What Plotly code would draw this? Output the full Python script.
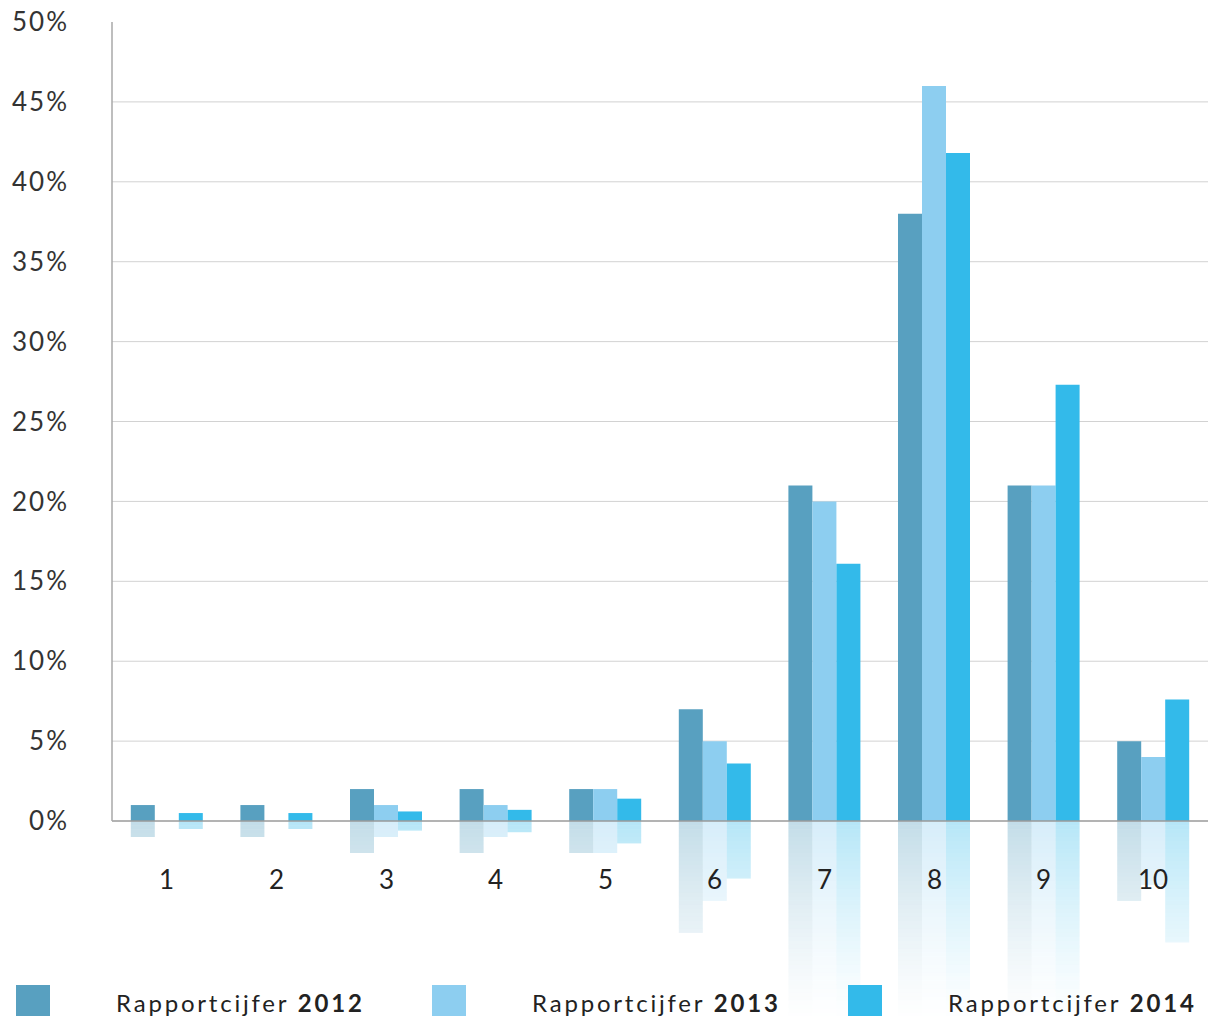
import plotly.graph_objects as go

# ---------------- data ----------------
CATEGORIES = ["1", "2", "3", "4", "5", "6", "7", "8", "9", "10"]
V2012 = [1, 1, 2, 2, 2, 7, 21, 38, 21, 5]
V2013 = [0, 0, 1, 1, 2, 5, 20, 46, 21, 4]
V2014 = [0.5, 0.5, 0.6, 0.7, 1.4, 3.6, 16.1, 41.8, 27.3, 7.6]
SERIES_NAMES = ["2012", "2013", "2014"]
Y_TICKS = [0, 5, 10, 15, 20, 25, 30, 35, 40, 45, 50]
GRID_VALS = [5, 10, 15, 20, 25, 30, 35, 40, 45]

# ---------------- style ----------------
COLORS = ["#58a0c0", "#8dcef0", "#33baea"]
RGB = [(88, 160, 192), (141, 206, 240), (51, 186, 234)]
W, H = 1208, 1016
ML, MR, MT, MB = 112, 0, 22, 0
Y_MIN, Y_MAX = -12.2, 50
FONT = "Lato"

def pxx(px):
    return (px - ML) / (W - ML - MR)

def pxy(py):
    return (H - MB - py) / (H - MT - MB)

fig = go.Figure()

series = [V2012, V2013, V2014]

# reflections (faded mirrored bars), drawn as thin bands with decreasing opacity
STEP = 0.25
FADE_DEPTH = 12.8
A0 = 0.36
nb = int(abs(Y_MIN) / STEP) + 1
for s, vals in enumerate(series):
    r, g, b = RGB[s]
    for k in range(nb):
        top = k * STEP
        ys = []
        for v in vals:
            d = min(STEP, v - top)
            ys.append(-d if d > 0 else 0)
        if all(y == 0 for y in ys):
            continue
        mid = top + STEP / 2
        a = A0 * max(0.0, 1 - mid / FADE_DEPTH) ** 1.3
        fig.add_trace(go.Bar(
            x=CATEGORIES, y=ys, base=[-top] * len(vals),
            offsetgroup=str(s),
            marker=dict(color=f"rgba({r},{g},{b},{a:.4f})", line=dict(width=0)),
            showlegend=False, hoverinfo="skip",
        ))

# main bars
for s, vals in enumerate(series):
    fig.add_trace(go.Bar(
        x=CATEGORIES, y=vals, offsetgroup=str(s),
        marker=dict(color=COLORS[s], line=dict(width=0)),
        name="Rapportcijfer " + SERIES_NAMES[s],
        showlegend=False,
    ))

shapes = []
for gv in GRID_VALS:
    shapes.append(dict(type="line", xref="paper", yref="y", x0=0, x1=1, y0=gv, y1=gv,
                       line=dict(color="#d2d2d2", width=1), layer="below"))
# zero line and y axis line
shapes.append(dict(type="line", xref="paper", yref="y", x0=0, x1=1, y0=0, y1=0,
                   line=dict(color="#9a9a9a", width=1.5), layer="above"))
shapes.append(dict(type="line", xref="paper", yref="y", x0=0, x1=0, y0=0, y1=Y_MAX,
                   line=dict(color="#a8a8a8", width=1.5), layer="above"))

annotations = []
for i, c in enumerate(CATEGORIES):
    annotations.append(dict(x=i, y=-3.6, xref="x", yref="y", text=c, showarrow=False,
                            font=dict(family=FONT, size=26, color="#222"),
                            xanchor="center", yanchor="middle"))

# legend (custom)
LEG_X = [16, 432, 848]
for i, lx in enumerate(LEG_X):
    shapes.append(dict(type="rect", xref="paper", yref="paper",
                       x0=pxx(lx), x1=pxx(lx + 34), y0=pxy(985), y1=pxy(1020),
                       fillcolor=COLORS[i], line=dict(width=0), layer="above"))
    annotations.append(dict(
        x=pxx(lx + 98), y=pxy(1002), xref="paper", yref="paper",
        text='<span style="letter-spacing:2.8px">Rapportcijfer <b>' + SERIES_NAMES[i] + '</b></span>',
        showarrow=False, xanchor="left", yanchor="middle",
        font=dict(family=FONT, size=24, color="#222")))

fig.update_layout(
    width=W, height=H,
    margin=dict(l=ML, r=MR, t=MT, b=MB, pad=0),
    paper_bgcolor="white", plot_bgcolor="white",
    barmode="group", bargap=0.343, bargroupgap=0,
    showlegend=False,
    shapes=shapes, annotations=annotations,
    xaxis=dict(type="category", range=[-0.5, 9.5], showticklabels=False,
               showgrid=False, zeroline=False, showline=False, fixedrange=True),
    yaxis=dict(range=[Y_MIN, Y_MAX], tickvals=Y_TICKS,
               ticktext=[f'<span style="letter-spacing:2px">{t}%</span>' for t in Y_TICKS],
               showgrid=False, zeroline=False, showline=False,
               ticks="", ticklabelstandoff=42,
               tickfont=dict(family=FONT, size=26, color="#333"), fixedrange=True),
    hovermode=False,
)

fig.write_html("out.html")
